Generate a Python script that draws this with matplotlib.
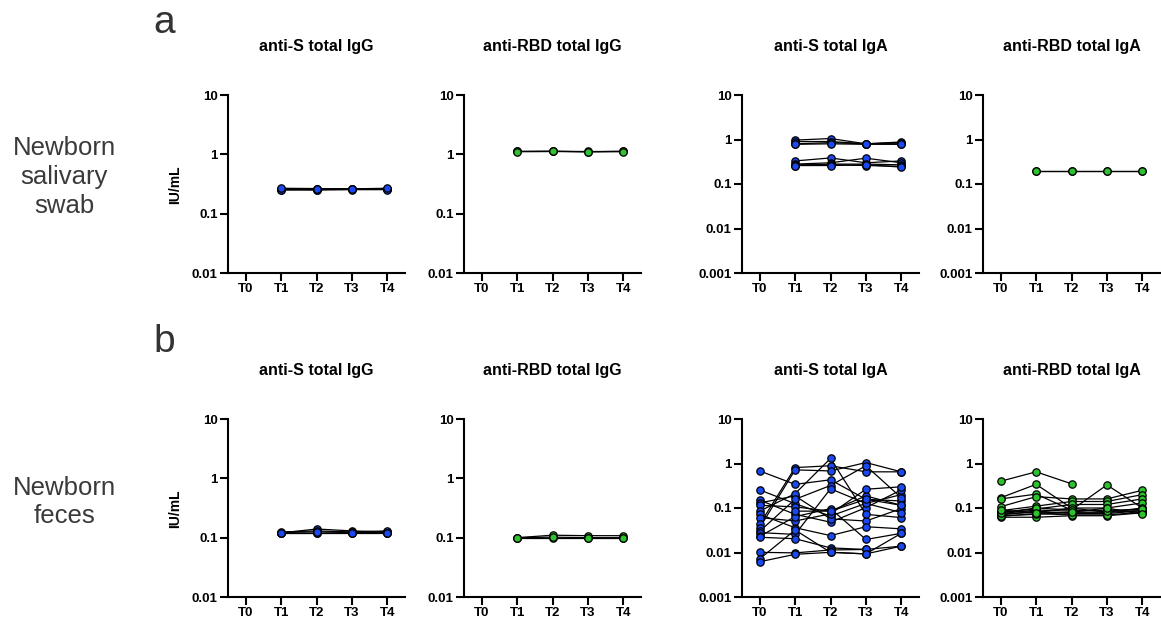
import numpy as np
import matplotlib
matplotlib.use("Agg")
import matplotlib.pyplot as plt

plt.rcParams['font.family'] = ['Liberation Sans', 'DejaVu Sans']

nan = np.nan
timepoints = ["T0", "T1", "T2", "T3", "T4"]
panel_titles = ["anti-S total IgG", "anti-RBD total IgG", "anti-S total IgA", "anti-RBD total IgA"]
row_labels = ["Newborn\nsalivary\nswab", "Newborn\nfeces"]
letters = ["a", "b"]

# Row a: newborn salivary swab
saliva_S_IgG = [
    [nan, 0.26, 0.26, 0.26, 0.26],
    [nan, 0.25, 0.255, 0.26, 0.265],
    [nan, 0.265, 0.262, 0.258, 0.258],
    [nan, 0.255, 0.25, 0.255, 0.255],
    [nan, 0.268, 0.265, 0.262, 0.268],
]
saliva_RBD_IgG = [
    [nan, 1.12, 1.13, 1.10, 1.13],
    [nan, 1.12, 1.12, 1.12, 1.12],
    [nan, 1.11, 1.12, 1.11, 1.11],
]
saliva_S_IgA = [
    [nan, 0.97, 1.05, 0.80, 0.88],
    [nan, 0.90, 0.90, 0.80, 0.85],
    [nan, 0.80, 0.85, 0.80, 0.80],
    [nan, 0.78, 0.80, 0.78, 0.78],
    [nan, 0.33, 0.385, 0.30, 0.33],
    [nan, 0.28, 0.30, 0.38, 0.30],
    [nan, 0.26, 0.28, 0.28, 0.27],
    [nan, 0.27, 0.27, 0.26, 0.25],
    [nan, 0.26, 0.26, 0.27, 0.24],
]
saliva_RBD_IgA = [
    [nan, 0.20, 0.20, 0.20, 0.20],
    [nan, 0.20, 0.20, 0.20, 0.20],
]

# Row b: newborn feces
feces_S_IgG = [
    [nan, 0.12, 0.14, 0.13, 0.125],
    [nan, 0.12, 0.12, 0.12, 0.12],
    [nan, 0.125, 0.13, 0.125, 0.13],
    [nan, 0.118, 0.118, 0.12, 0.12],
    [nan, 0.122, 0.125, 0.122, 0.122],
]
feces_RBD_IgG = [
    [nan, 0.10, 0.11, 0.108, 0.108],
    [nan, 0.10, 0.10, 0.10, 0.10],
    [nan, 0.10, 0.102, 0.10, 0.10],
]
feces_S_IgA = [
    [0.68, 0.34, 0.43, 0.157, 0.144],
    [0.255, 0.125, 0.066, 0.127, 0.20],
    [0.15, 0.072, 0.048, 0.102, 0.255],
    [0.13, 0.187, 0.057, 0.051, 0.097],
    [0.115, 0.106, 0.085, 0.187, 0.115],
    [0.085, 0.21, 1.30, 0.072, 0.061],
    [0.072, 0.036, 0.024, 0.038, 0.034],
    [0.061, 0.051, 0.074, 0.264, 0.30],
    [0.043, 0.81, 0.89, 0.65, 0.65],
    [0.036, 0.72, 0.68, 1.05, 0.65],
    [0.030, 0.157, 0.32, 0.89, 0.17],
    [0.028, 0.0255, 0.27, 0.127, 0.079],
    [0.023, 0.064, 0.097, 0.0196, 0.027],
    [0.022, 0.0204, 0.0127, 0.0117, 0.0139],
    [0.0101, 0.0098, 0.0114, 0.0117, nan],
    [0.0072, 0.032, 0.0101, 0.0093, 0.0139],
    [0.0062, 0.0091, 0.0101, 0.0093, 0.027],
    [nan, 0.085, 0.085, 0.157, 0.115],
]
feces_RBD_IgA = [
    [0.40, 0.65, 0.35, nan, nan],
    [0.17, 0.34, 0.10, 0.08, 0.087],
    [0.16, 0.205, 0.09, 0.33, 0.10],
    [0.107, 0.18, 0.16, 0.16, 0.25],
    [0.087, 0.11, 0.14, 0.14, 0.20],
    [0.08, 0.095, 0.12, 0.12, 0.16],
    [0.073, 0.08, 0.10, 0.10, 0.13],
    [0.067, 0.072, 0.08, 0.08, 0.10],
    [0.062, 0.062, 0.067, 0.067, 0.078],
    [0.07, 0.085, 0.075, 0.075, 0.087],
    [0.075, 0.09, 0.085, 0.09, 0.09],
    [0.065, 0.075, 0.07, 0.07, 0.08],
    [0.078, 0.10, 0.09, 0.085, 0.095],
    [0.09, 0.078, 0.08, 0.10, 0.072],
]

rows_data = [
    [saliva_S_IgG, saliva_RBD_IgG, saliva_S_IgA, saliva_RBD_IgA],
    [feces_S_IgG, feces_RBD_IgG, feces_S_IgA, feces_RBD_IgA],
]
rows_ymin = [
    [0.01, 0.01, 0.001, 0.001],
    [0.01, 0.01, 0.001, 0.001],
]
panel_colors = ["#1a48f2", "#2ec22e", "#1a48f2", "#2ec22e"]

W, H = 1161, 620
fig = plt.figure(figsize=(W / 100, H / 100), dpi=100)

lefts = [228, 464, 742, 983]
width = 177
row_tops = [95, 419]
height = 178
title_y = [47, 371]
letter_y = [23, 342]
rowlabel_y = [177, 502]

tick_vals = [0.001, 0.01, 0.1, 1, 10]
tick_txt = ["0.001", "0.01", "0.1", "1", "10"]

for r in range(2):
    for c in range(4):
        ax = fig.add_axes([lefts[c] / W, 1 - (row_tops[r] + height) / H, width / W, height / H])
        for subj in rows_data[r][c]:
            ax.plot(range(5), subj, '-', color='black', lw=0.9, zorder=2)
            ax.plot(range(5), subj, 'o', ms=5.3, mfc=panel_colors[c], mec='black',
                    mew=0.9, zorder=3, clip_on=False)
        ymin = rows_ymin[r][c]
        ax.set_yscale('log')
        ax.set_ylim(ymin, 10)
        ax.set_xlim(-0.5, 4.5)
        yt = [v for v in tick_vals if v >= ymin]
        ax.set_yticks(yt)
        ax.set_yticklabels([tick_txt[tick_vals.index(v)] for v in yt])
        ax.yaxis.set_minor_locator(matplotlib.ticker.NullLocator())
        ax.set_xticks(range(5))
        ax.set_xticklabels(timepoints)
        for sp in ['top', 'right']:
            ax.spines[sp].set_visible(False)
        for sp in ['left', 'bottom']:
            ax.spines[sp].set_linewidth(1.5)
        ax.tick_params(axis='both', length=5.5, width=1.5, labelsize=9.5, pad=2)
        for lab in ax.get_xticklabels() + ax.get_yticklabels():
            lab.set_fontweight('bold')
        if c == 0:
            fig.text(175 / W, 1 - (row_tops[r] + 90) / H, "IU/mL", rotation=90,
                     ha='center', va='center', fontsize=10, fontweight='bold')
        fig.text((lefts[c] + width / 2) / W, 1 - title_y[r] / H, panel_titles[c],
                 ha='center', va='center', fontsize=11.5, fontweight='bold')
    fig.text(164 / W, 1 - letter_y[r] / H, letters[r], ha='center', va='center',
             fontsize=28, color='#333333')
    fig.text(64 / W, 1 - rowlabel_y[r] / H, row_labels[r], ha='center', va='center',
             fontsize=18.5, color='#3a3a3a', linespacing=1.25)

fig.savefig("out.png", dpi=100)
